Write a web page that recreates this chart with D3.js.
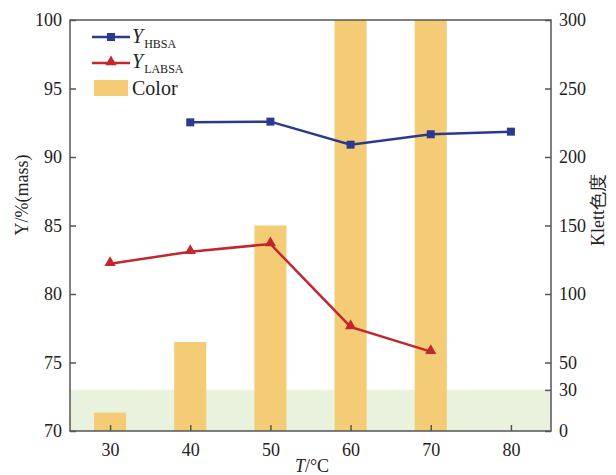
<!DOCTYPE html>
<head>
    <meta charset="utf-8" />
    <script src="https://d3js.org/d3.v7.min.js"></script>
    <style>
        body { margin: 0; background: #fff; }
        text { font-family: "Liberation Serif", "DejaVu Serif", serif; fill: #222; }
    </style>
</head>
<body>
<script>
    // data
    var temps = [30, 40, 50, 60, 70, 80];
    var hbsaT = [40, 50, 60, 70, 80];
    var hbsa = [92.53, 92.58, 90.9, 91.66, 91.85];
    var labsaT = [30, 40, 50, 60, 70];
    var labsa = [82.2, 83.09, 83.65, 77.6, 75.79];
    var colorT = [30, 40, 50, 60, 70];
    var colorVal = [13.4, 65, 150, 320, 320];
    var leftTicks = [70, 75, 80, 85, 90, 95, 100];
    var rightTicks = [0, 30, 50, 100, 150, 200, 250, 300];
    var bandLimit = 30;

    var width = 616, height = 475;
    var L = 70, R = 551, T = 20, B = 431;

    var svg = d3.select("body").append("svg")
        .attr("width", width).attr("height", height);

    var x = d3.scaleLinear().domain([25, 85]).range([L, R]);
    var yL = d3.scaleLinear().domain([70, 100]).range([B, T]);
    var yR = d3.scaleLinear().domain([0, 300]).range([B, T]);

    svg.append("clipPath").attr("id", "clip")
        .append("rect").attr("x", L).attr("y", T).attr("width", R - L).attr("height", B - T);

    var plot = svg.append("g").attr("clip-path", "url(#clip)");

    // green band below 30
    plot.append("rect")
        .attr("x", L).attr("width", R - L)
        .attr("y", yR(bandLimit)).attr("height", B - yR(bandLimit))
        .attr("fill", "#e9f2dd");

    // bars
    var bw = x(42) - x(38);
    plot.selectAll(".bar").data(colorT).join("rect")
        .attr("class", "bar")
        .attr("x", d => x(d) - bw / 2)
        .attr("width", bw)
        .attr("y", (d, i) => yR(colorVal[i]))
        .attr("height", (d, i) => B - yR(colorVal[i]))
        .attr("fill", "#f5cc76");

    var blue = "#2b3990", red = "#c1272d";

    var line = d3.line().x(d => x(d[0])).y(d => yL(d[1]));
    var hb = hbsaT.map((t, i) => [t, hbsa[i]]);
    var lb = labsaT.map((t, i) => [t, labsa[i]]);

    plot.append("path").datum(hb).attr("d", line)
        .attr("fill", "none").attr("stroke", blue).attr("stroke-width", 2.5);
    plot.selectAll(".sq").data(hb).join("rect")
        .attr("x", d => x(d[0]) - 4).attr("y", d => yL(d[1]) - 4)
        .attr("width", 8).attr("height", 8).attr("fill", blue);

    plot.append("path").datum(lb).attr("d", line)
        .attr("fill", "none").attr("stroke", red).attr("stroke-width", 2.5);
    var tri = d3.symbol().type(d3.symbolTriangle).size(55);
    plot.selectAll(".tri").data(lb).join("path")
        .attr("transform", d => "translate(" + x(d[0]) + "," + (yL(d[1]) - 1) + ")")
        .attr("d", tri).attr("fill", red);

    // frame + axes
    var axColor = "#555";
    svg.append("rect").attr("x", L).attr("y", T).attr("width", R - L).attr("height", B - T)
        .attr("fill", "none").attr("stroke", axColor).attr("stroke-width", 1.5);

    var xa = svg.append("g").attr("transform", "translate(0," + B + ")")
        .call(d3.axisBottom(x).tickValues(temps).tickSizeInner(-6).tickSizeOuter(0).tickPadding(14));
    var la = svg.append("g").attr("transform", "translate(" + L + ",0)")
        .call(d3.axisLeft(yL).tickValues(leftTicks).tickSizeInner(-6).tickSizeOuter(0).tickPadding(14));
    var ra = svg.append("g").attr("transform", "translate(" + R + ",0)")
        .call(d3.axisRight(yR).tickValues(rightTicks).tickSizeInner(-6).tickSizeOuter(0).tickPadding(14));

    [xa, la, ra].forEach(function (a) {
        a.select(".domain").remove();
        a.selectAll(".tick line").attr("stroke", axColor).attr("stroke-width", 1.5);
        a.selectAll(".tick text").attr("font-size", 18).attr("font-family", "Liberation Serif").attr("fill", "#222");
    });
    ra.selectAll(".tick text").attr("x", 8);
    la.selectAll(".tick text").attr("x", -8);
    xa.selectAll(".tick text").attr("y", 12);

    // axis titles
    var xt = svg.append("text").attr("x", 312).attr("y", 472)
        .attr("text-anchor", "middle").attr("font-size", 18);
    xt.append("tspan").attr("font-style", "italic").text("T");
    xt.append("tspan").text("/°C");

    svg.append("text")
        .attr("transform", "translate(28,195) rotate(-90)")
        .attr("text-anchor", "middle").attr("font-size", 18)
        .text("Y/%(mass)");

    svg.append("text")
        .attr("transform", "translate(604,210) rotate(-90)")
        .attr("text-anchor", "middle").attr("font-size", 18)
        .text("Klett色度");

    // legend
    var lg = svg.append("g");
    lg.append("line").attr("x1", 92).attr("x2", 130).attr("y1", 37).attr("y2", 37)
        .attr("stroke", blue).attr("stroke-width", 2.5);
    lg.append("rect").attr("x", 107).attr("y", 33).attr("width", 8).attr("height", 8).attr("fill", blue);
    var t1 = lg.append("text").attr("x", 132).attr("y", 43).attr("font-size", 20);
    t1.append("tspan").attr("font-style", "italic").text("Y");
    t1.append("tspan").attr("font-size", 12).attr("dy", 5).attr("dx", 1).text("HBSA");

    lg.append("line").attr("x1", 92).attr("x2", 130).attr("y1", 63).attr("y2", 63)
        .attr("stroke", red).attr("stroke-width", 2.5);
    lg.append("path").attr("transform", "translate(111,62)").attr("d", tri).attr("fill", red);
    var t2 = lg.append("text").attr("x", 132).attr("y", 68).attr("font-size", 20);
    t2.append("tspan").attr("font-style", "italic").text("Y");
    t2.append("tspan").attr("font-size", 12).attr("dy", 5).attr("dx", 1).text("LABSA");

    lg.append("rect").attr("x", 94).attr("y", 80).attr("width", 34).attr("height", 16).attr("fill", "#f5cc76");
    lg.append("text").attr("x", 132).attr("y", 95).attr("font-size", 20).text("Color");
</script>
</body>
